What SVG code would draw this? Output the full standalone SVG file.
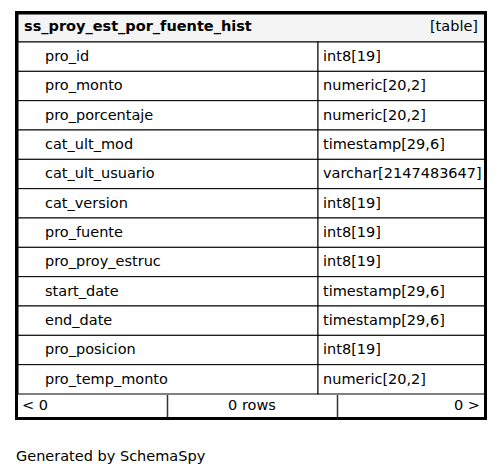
<svg xmlns="http://www.w3.org/2000/svg" width="504" height="476" viewBox="0 0 504 476">
<style>
text{font-family:"DejaVu Sans",sans-serif;font-size:14.5px;fill:#000}
.b{font-weight:bold}
.c{fill:#fff;stroke:#000;stroke-width:1}
.e{text-anchor:end}
.m{text-anchor:middle}
</style>
<rect width="504" height="476" fill="#fff"/>
<g id="ss_proy_est_por_fuente_hist">
<rect x="18" y="14" width="467" height="28" fill="#f4f4f4" stroke="#000"/>
<text class="b" x="24" y="31">ss_proy_est_por_fuente_hist</text>
<text class="e" x="478" y="31">[table]</text>
<g id="rows">
<rect class="c" x="18" y="42" width="300" height="29.33"/><rect class="c" x="318" y="42" width="167" height="29.33"/>
<rect class="c" x="18" y="71.33" width="300" height="29.33"/><rect class="c" x="318" y="71.33" width="167" height="29.33"/>
<rect class="c" x="18" y="100.67" width="300" height="29.33"/><rect class="c" x="318" y="100.67" width="167" height="29.33"/>
<rect class="c" x="18" y="130" width="300" height="29.33"/><rect class="c" x="318" y="130" width="167" height="29.33"/>
<rect class="c" x="18" y="159.33" width="300" height="29.33"/><rect class="c" x="318" y="159.33" width="167" height="29.33"/>
<rect class="c" x="18" y="188.67" width="300" height="29.33"/><rect class="c" x="318" y="188.67" width="167" height="29.33"/>
<rect class="c" x="18" y="218" width="300" height="29.33"/><rect class="c" x="318" y="218" width="167" height="29.33"/>
<rect class="c" x="18" y="247.33" width="300" height="29.33"/><rect class="c" x="318" y="247.33" width="167" height="29.33"/>
<rect class="c" x="18" y="276.67" width="300" height="29.33"/><rect class="c" x="318" y="276.67" width="167" height="29.33"/>
<rect class="c" x="18" y="306" width="300" height="29.33"/><rect class="c" x="318" y="306" width="167" height="29.33"/>
<rect class="c" x="18" y="335.33" width="300" height="29.33"/><rect class="c" x="318" y="335.33" width="167" height="29.33"/>
<rect class="c" x="18" y="364.67" width="300" height="29.33"/><rect class="c" x="318" y="364.67" width="167" height="29.33"/>
</g>
<text x="45" y="61">pro_id</text><text x="323" y="61">int8[19]</text>
<text x="45" y="90.3">pro_monto</text><text x="323" y="90.3">numeric[20,2]</text>
<text x="45" y="119.7">pro_porcentaje</text><text x="323" y="119.7">numeric[20,2]</text>
<text x="45" y="149">cat_ult_mod</text><text x="323" y="149">timestamp[29,6]</text>
<text x="45" y="178.3">cat_ult_usuario</text><text x="323" y="178.3">varchar[2147483647]</text>
<text x="45" y="207.7">cat_version</text><text x="323" y="207.7">int8[19]</text>
<text x="45" y="237">pro_fuente</text><text x="323" y="237">int8[19]</text>
<text x="45" y="266.3">pro_proy_estruc</text><text x="323" y="266.3">int8[19]</text>
<text x="45" y="295.7">start_date</text><text x="323" y="295.7">timestamp[29,6]</text>
<text x="45" y="325">end_date</text><text x="323" y="325">timestamp[29,6]</text>
<text x="45" y="354.3">pro_posicion</text><text x="323" y="354.3">int8[19]</text>
<text x="45" y="383.7">pro_temp_monto</text><text x="323" y="383.7">numeric[20,2]</text>
<line x1="167.5" y1="395" x2="167.5" y2="417" stroke="#333" stroke-width="1.5"/>
<line x1="337.5" y1="395" x2="337.5" y2="417" stroke="#333" stroke-width="1.5"/>
<text x="22" y="410">&lt; 0</text>
<text class="m" x="252" y="410">0 rows</text>
<text class="e" x="480" y="410">0 &gt;</text>
<rect x="16.5" y="12.5" width="469" height="406" fill="none" stroke="#000" stroke-width="3"/>
</g>
<text x="16" y="461">Generated by SchemaSpy</text>
</svg>
